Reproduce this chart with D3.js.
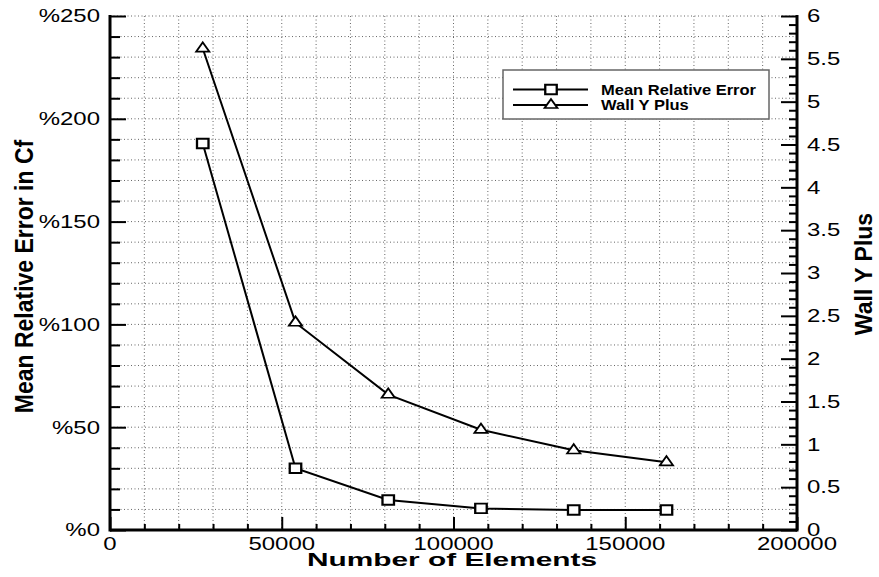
<!DOCTYPE html>
<html><head><meta charset="utf-8">
<script src="https://cdn.jsdelivr.net/npm/d3@7"></script>
<style>body{margin:0;background:#fff}svg{display:block}text{font-family:"Liberation Sans",Arial,sans-serif}</style>
</head><body>
<svg id="c" width="879" height="577"></svg>
<script>
const elements = [27000, 54000, 81000, 108000, 135000, 162000];
const meanRelError = [188, 30, 14.6, 10.5, 9.7, 9.7];
const wallYPlus = [5.62, 2.42, 1.58, 1.17, 0.93, 0.79];
const xTicks = [0, 50000, 100000, 150000, 200000];
const leftTicks = [0, 50, 100, 150, 200, 250];
const rightTicks = [0, 0.5, 1, 1.5, 2, 2.5, 3, 3.5, 4, 4.5, 5, 5.5, 6];
const seriesNames = ["Mean Relative Error", "Wall Y Plus"];

const svg = d3.select("#c");
const L = 110, R = 797, T = 16, B = 530;
const x = d3.scaleLinear().domain([0, 200000]).range([L, R]);
const yL = d3.scaleLinear().domain([0, 250]).range([B, T]);
const yR = d3.scaleLinear().domain([0, 6]).range([B, T]);

function label(parent, px, py, txt, o) {
  return parent.append("text")
    .attr("transform", `translate(${px},${py}) rotate(${o.rot || 0}) scale(${o.sx || 1},${o.sy || 1})`)
    .attr("text-anchor", o.anchor || "start")
    .attr("font-size", o.size).attr("font-weight", o.bold ? "bold" : "normal")
    .attr("fill", "#000").text(txt);
}

// grid
const g = svg.append("g");
d3.range(10000, 200000, 10000).forEach(v => {
  g.append("line").attr("x1", x(v)).attr("x2", x(v)).attr("y1", T).attr("y2", B)
   .attr("stroke", "#666").attr("stroke-width", 1).attr("stroke-dasharray", "1,2.5");
});
d3.range(10, 260, 10).forEach(v => {
  g.append("line").attr("x1", L).attr("x2", R).attr("y1", yL(v)).attr("y2", yL(v))
   .attr("stroke", "#666").attr("stroke-width", 1).attr("stroke-dasharray", "1,2.5");
});

// axes ticks
const xa = svg.append("g").attr("transform", `translate(0,${B})`)
  .call(d3.axisBottom(x).tickValues(d3.range(0, 200001, 10000)).tickSize(-6).tickFormat(""));
xa.select(".domain").remove();
xa.selectAll(".tick line").attr("stroke", "#000").attr("stroke-width", 2)
  .attr("y2", d => xTicks.includes(d) ? -13 : -6);
const la = svg.append("g").attr("transform", `translate(${L},0)`)
  .call(d3.axisLeft(yL).tickValues(d3.range(0, 251, 10)).tickSize(-10).tickFormat(""));
la.select(".domain").remove();
la.selectAll(".tick line").attr("stroke", "#000").attr("stroke-width", 2)
  .attr("x2", d => leftTicks.includes(d) ? 16 : 10);
const ra = svg.append("g").attr("transform", `translate(${R},0)`)
  .call(d3.axisRight(yR).tickValues(d3.range(0, 61).map(i => i / 10)).tickSize(-8).tickFormat(""));
ra.select(".domain").remove();
ra.selectAll(".tick line").attr("stroke", "#000").attr("stroke-width", 2)
  .attr("x2", d => rightTicks.some(t => Math.abs(t - d) < 1e-6) ? -16 : -8);

svg.append("line").attr("x1", L).attr("x2", R).attr("y1", B).attr("y2", B).attr("stroke", "#000").attr("stroke-width", 3);
svg.append("line").attr("x1", L).attr("x2", L).attr("y1", T - 1).attr("y2", B + 1.5).attr("stroke", "#000").attr("stroke-width", 3);
svg.append("line").attr("x1", R).attr("x2", R).attr("y1", T - 1).attr("y2", B + 1.5).attr("stroke", "#000").attr("stroke-width", 3);

// tick labels
const fs = 17.5, sx = 1.37;
const tl = svg.append("g");
xTicks.forEach(d => label(tl, x(d), B + 20, d, {size: fs, sx, anchor: "middle"}));
leftTicks.forEach(d => label(tl, L - 10, yL(d) + 6.3, "%" + d, {size: fs, sx, anchor: "end"}));
rightTicks.forEach(d => label(tl, R + 10, yR(d) + 6.3, d, {size: fs, sx, anchor: "start"}));

// titles
label(svg, 452, 566, "Number of Elements", {size: 18.2, sx: 1.64, anchor: "middle", bold: true});
label(svg, 33, 276.5, "Mean Relative Error in Cf", {size: 23, rot: -90, sy: 1.15, anchor: "middle", bold: true});
label(svg, 872, 274, "Wall Y Plus", {size: 23, rot: -90, anchor: "middle", bold: true});

// series
const line1 = d3.line().x((d, i) => x(elements[i])).y(d => yL(d));
const line2 = d3.line().x((d, i) => x(elements[i])).y(d => yR(d));
svg.append("path").attr("d", line1(meanRelError)).attr("fill", "none").attr("stroke", "#000").attr("stroke-width", 2);
svg.append("path").attr("d", line2(wallYPlus)).attr("fill", "none").attr("stroke", "#000").attr("stroke-width", 2);

const sq = d3.symbol().type(d3.symbolSquare).size(100);
const tri = d3.symbol().type(d3.symbolTriangle).size(75);
svg.append("g").selectAll("path").data(meanRelError).join("path")
  .attr("transform", (d, i) => `translate(${x(elements[i])},${yL(d)}) scale(1.15,0.95)`).attr("d", sq)
  .attr("fill", "#fff").attr("stroke", "#000").attr("stroke-width", 2);
svg.append("g").selectAll("path").data(wallYPlus).join("path")
  .attr("transform", (d, i) => `translate(${x(elements[i])},${yR(d)}) scale(1,0.82)`).attr("d", tri)
  .attr("fill", "#fff").attr("stroke", "#000").attr("stroke-width", 2);

// legend
const lg = svg.append("g");
lg.append("rect").attr("x", 503).attr("y", 70).attr("width", 266).attr("height", 49)
  .attr("fill", "#fff").attr("stroke", "#666").attr("stroke-width", 1.5);
[89.5, 105].forEach((yy, i) => {
  lg.append("line").attr("x1", 513).attr("x2", 588).attr("y1", yy).attr("y2", yy).attr("stroke", "#000").attr("stroke-width", 2);
  lg.append("path").attr("transform", `translate(551,${yy}) scale(${i ? 1 : 1.15},${i ? 0.8 : 0.95})`)
    .attr("d", d3.symbol().type(i ? d3.symbolTriangle : d3.symbolSquare).size(i ? 72 : 100))
    .attr("fill", "#fff").attr("stroke", "#000").attr("stroke-width", 2);
  label(lg, 601, yy + 5, seriesNames[i], {size: 14, sx: 1.18, bold: true});
});
</script>
</body></html>
